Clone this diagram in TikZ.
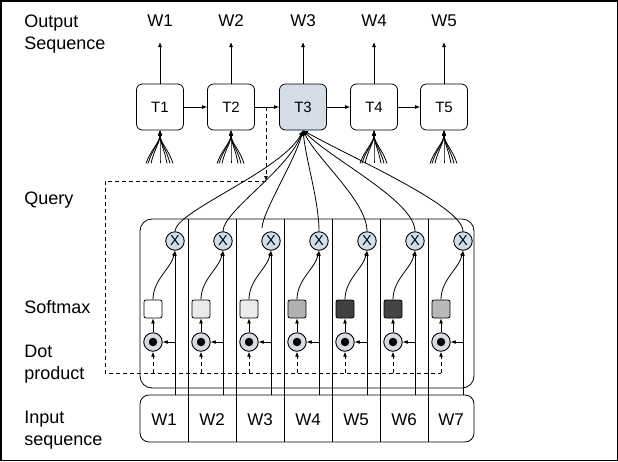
\documentclass[tikz,border=0pt]{standalone}
\usepackage{fontspec}
\setmainfont{Liberation Sans}
\usetikzlibrary{arrows.meta}
\definecolor{cblue}{RGB}{213,222,232}
\definecolor{sma}{RGB}{255,255,255}
\definecolor{smb}{RGB}{234,234,234}
\definecolor{smc}{RGB}{236,236,236}
\definecolor{smd}{RGB}{176,176,176}
\definecolor{sme}{RGB}{64,64,64}
\definecolor{smf}{RGB}{68,68,68}
\definecolor{smg}{RGB}{184,184,184}
\begin{document}
\begin{tikzpicture}[x=1pt,y=1pt,line width=0.8pt,
  >={Latex[length=5pt,width=4pt]},
  tbox/.style={draw, rounded corners=6pt, minimum width=47pt, minimum height=46pt, inner sep=0pt, font=\fontsize{15}{18}\selectfont},
  wtop/.style={anchor=south, inner xsep=0pt, inner ysep=15pt, text depth=0pt, font=\fontsize{17}{20}\selectfont},
  wword/.style={anchor=base, inner sep=0pt, font=\fontsize{17}{20}\selectfont},
  lbl/.style={anchor=base west, inner sep=0pt, font=\fontsize{18}{22}\selectfont},
  xcirc/.style={circle, draw, line width=0.9pt, fill=cblue, minimum size=18.5pt, inner sep=0pt, font=\fontsize{14.5}{14.5}\selectfont},
  dotc/.style={circle, draw, line width=0.9pt, fill=cblue, minimum size=18.5pt, inner sep=0pt},
  dotin/.style={circle, fill=black, minimum size=8.5pt, inner sep=0pt},
  smax/.style={draw, rounded corners=2pt, minimum size=18pt, inner sep=0pt},
  dsh/.style={dash pattern=on 4pt off 3pt}
]
\useasboundingbox (0,0) rectangle (618,-461);
\draw[line width=1.5pt] (0.75,-0.75) rectangle (617.25,-460.25);

% left labels
\node[lbl] (lout) at (24,-27) {Output};
\node[lbl] (lseq) at (24,-49) {Sequence};
\node[lbl] (lq) at (24,-204) {Query};
\node[lbl] (lsm) at (24,-313) {Softmax};
\node[lbl] (ldot) at (24,-357) {Dot};
\node[lbl] (lprod) at (24,-379) {product};
\node[lbl] (lin) at (24,-423) {Input};
\node[lbl] (lseqb) at (24,-445) {sequence};

% decoder boxes
\node[tbox] (T1) at (160,-107) {T1};
\node[tbox] (T2) at (231,-107) {T2};
\node[tbox, fill=cblue] (T3) at (303,-107) {T3};
\node[tbox] (T4) at (374,-107) {T4};
\node[tbox] (T5) at (444,-107) {T5};
\foreach \i/\x in {1/160,2/231,3/303,4/374,5/444}{
  \node[wtop] (O\i) at (\x,-42) {W\i};
  \draw[->] (T\i) -- (O\i);
}
\draw[->] (T1) -- (T2);
\draw[->] (T2) -- (T3);
\draw[->] (T3) -- (T4);
\draw[->] (T4) -- (T5);

% fan-ins
\foreach \t in {T1,T2,T4,T5}{
  \foreach \d in {-14,-12,-9,0,7,10,13}{
    \draw[->] ([shift={(\d,-33)}]\t.south) .. controls +({-0.35*\d},14) and +(0,-12) .. (\t.south);
  }
}

% attention box and input box
\node[draw, rounded corners=12pt, minimum width=334pt, minimum height=169pt, inner sep=0pt] (att) at (307,-303.5) {};
\node[draw, rounded corners=9pt, minimum width=334pt, minimum height=47pt, inner sep=0pt] (inbox) at (307,-418.5) {};
\foreach \k in {1,...,6}{
  \draw ({140+48*\k},-219) -- ({140+48*\k},-442);
}
\foreach \i/\wx in {1/164,2/212,3/260,4/308,5/356,6/404,7/451}{
  \node[wword] (W\i) at (\wx,-425) {W\i};
}

% columns
\foreach \i/\c in {0/sma,1/smb,2/smc,3/smd,4/sme,5/smf,6/smg}{
  \pgfmathsetmacro{\xd}{153+48*\i}
  \pgfmathsetmacro{\xx}{175+48*\i}
  \node[xcirc] (X\i) at (\xx,-241) {X};
  \node[smax, fill=\c] (S\i) at (\xd,-309) {};
  \node[dotc] (D\i) at (\xd,-342) {};
  \node[dotin] (Di\i) at (\xd,-342) {};
  \coordinate (I\i) at (\xx,-395);
  \coordinate (Q\i) at (\xd,-373);
  \draw[->] (I\i) -- (X\i);
  \draw[->] (I\i |- D\i) -- (D\i);
  \draw[->] (D\i) -- (S\i);
  \draw[->, dsh] (Q\i) -- (D\i);
  \draw[->] (S\i.north) .. controls +(0,20) and +(-4,-18) .. (X\i.south);
}

% query dashed line
\coordinate (m23) at (266,-107);
\coordinate (qc) at (266,-181);
\coordinate (ql) at (105,-181);
\coordinate (qb) at (105,-373);
\draw[->, dsh] (m23) -- (qc);
\draw[dsh] (qc) -- (ql) -- (qb) -- (Q6);

% attention curves into T3
\coordinate (c2) at (262,-228);
\draw[->] (X0.north) .. controls +(0,20) and +(-20,-40) .. (T3.south);
\draw[->] (X1.north) .. controls +(0,20) and +(-15,-40) .. (T3.south);
\draw[->] (c2) .. controls +(0,15) and +(-8,-30) .. (T3.south);
\draw[->] (X3.north) .. controls +(0,30) and +(3,-30) .. (T3.south);
\draw[->] (X4.north) .. controls +(0,30) and +(15,-30) .. (T3.south);
\draw[->] (X5.north) .. controls +(0,30) and +(30,-30) .. (T3.south);
\draw[->] (X6.north) .. controls +(0,25) and +(50,-28) .. (T3.south);
\end{tikzpicture}
\end{document}
